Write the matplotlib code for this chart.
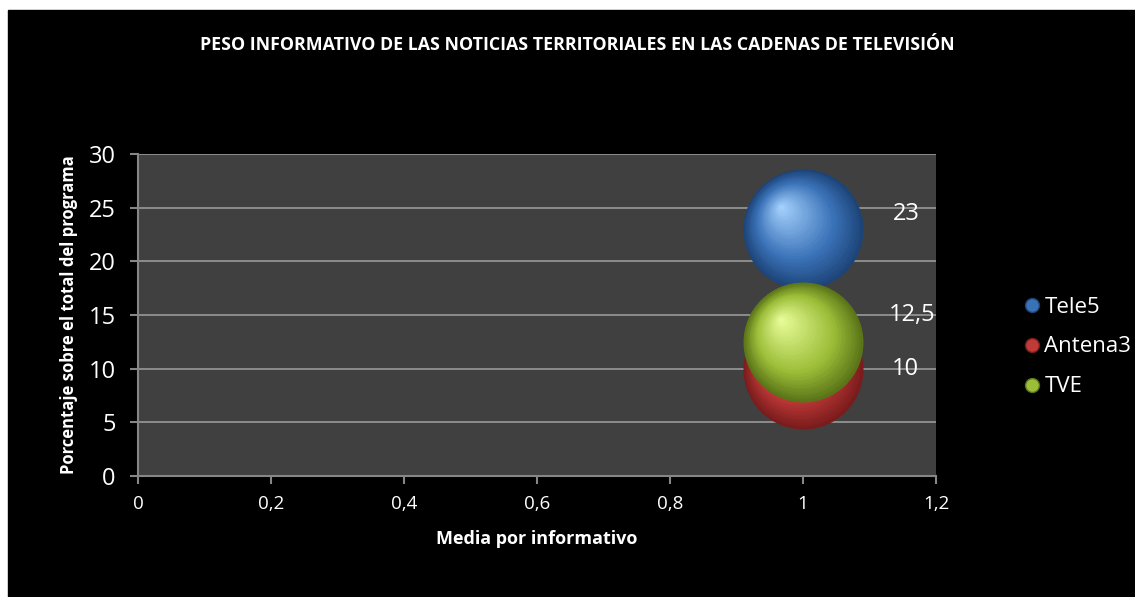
import numpy as np
import matplotlib.pyplot as plt
import matplotlib.transforms as mtransforms
from matplotlib.colors import to_rgb
from matplotlib.lines import Line2D

plt.rcParams['font.family'] = ['Open Sans', 'DejaVu Sans']

# data
series = ["Tele5", "Antena3", "TVE"]
x_values = [1, 1, 1]
y_values = [23, 10, 12.5]
labels = ["23", "10", "12,5"]
x_ticks = [0, 0.2, 0.4, 0.6, 0.8, 1, 1.2]
x_tick_labels = ["0", "0,2", "0,4", "0,6", "0,8", "1", "1,2"]
y_ticks = [0, 5, 10, 15, 20, 25, 30]

# sphere colours: dark edge, mid, highlight
colors = {
    "Tele5": ("#1d4478", "#3a72b8", "#a8d4ff"),
    "Antena3": ("#7a1c1c", "#c03a38", "#ff9f9a"),
    "TVE": ("#5a7418", "#9cbd38", "#eaff9c"),
}
label_offsets = {"Tele5": (103, 15), "Antena3": (102, 0), "TVE": (109, 27)}


def blend(c1, c2, t):
    a = np.array(to_rgb(c1))
    b = np.array(to_rgb(c2))
    return tuple(a + (b - a) * t)


def draw_sphere(ax, fig, x, y, radius_pt, cols, n=40, zorder=3):
    dark, mid, light = cols
    for i in range(n):
        f = 1 - i / n
        r = radius_pt * f
        if i < n * 0.35:
            c = blend(dark, mid, i / (n * 0.35))
        else:
            c = blend(mid, light, (i - n * 0.35) / (n * 0.65))
        shift = (1 - f) * radius_pt * 0.38
        tr = ax.transData + mtransforms.ScaledTranslation(
            -shift / 72, shift / 72, fig.dpi_scale_trans)
        ax.scatter([x], [y], s=(2 * r) ** 2, color=c, transform=tr,
                   zorder=zorder, linewidths=0)


fig = plt.figure(figsize=(11.35, 5.97), dpi=100)
fig.patch.set_facecolor("white")
fig.add_artist(plt.Rectangle((8 / 1135, 0), 1, 1 - 10 / 597,
                             transform=fig.transFigure, color="black",
                             zorder=-10))

ax = fig.add_axes([138 / 1135, 121 / 597, 798 / 1135, 322 / 597])
ax.set_facecolor("#404040")
ax.set_xlim(0, 1.2)
ax.set_ylim(0, 30)
ax.set_xticks(x_ticks)
ax.set_xticklabels(x_tick_labels)
ax.set_yticks(y_ticks)
ax.yaxis.grid(True, color="#9a9a9a", linewidth=1.2)
ax.set_axisbelow(True)
for side in ["top", "right"]:
    ax.spines[side].set_visible(False)
for side in ["left", "bottom"]:
    ax.spines[side].set_color("#868686")
    ax.spines[side].set_linewidth(1.5)
ax.tick_params(colors="#868686", length=6, width=1.5, labelcolor="white",
               labelsize=17, pad=6)
ax.tick_params(axis="y", pad=10)
ax.tick_params(axis="x", labelsize=13.5, pad=8)

radius_pt = 60 / fig.dpi * 72
for name, x, y, lab in zip(series, x_values, y_values, labels):
    draw_sphere(ax, fig, x, y, radius_pt, colors[name])
    dx, dy = label_offsets[name]
    ax.annotate(lab, (x, y), xytext=(dx, dy), textcoords="offset pixels",
                color="white", fontsize=17, ha="center", va="center",
                zorder=5)

fig.text(577 / 1135, 1 - 45 / 597,
         "PESO INFORMATIVO DE LAS NOTICIAS TERRITORIALES EN LAS CADENAS DE TELEVISIÓN",
         color="white", fontsize=12.8, fontweight="bold", ha="center",
         va="center")
ax.set_xlabel("Media por informativo", color="white", fontsize=13,
              fontweight="bold", labelpad=12)
ax.set_ylabel("Porcentaje sobre el total del programa", color="white",
              fontsize=12, fontweight="bold", labelpad=8)

handles = [Line2D([], [], marker="o", linestyle="", markersize=10,
                  markerfacecolor=colors[s][1], markeredgecolor=colors[s][0])
           for s in series]
leg = fig.legend(handles, series, loc="center left",
                 bbox_to_anchor=(1001 / 1135, 1 - 347 / 597),
                 frameon=False, fontsize=16, labelcolor="white",
                 handletextpad=0.05, labelspacing=0.85, handlelength=1.0)

fig.savefig("out.png", dpi=100, facecolor=fig.get_facecolor())
